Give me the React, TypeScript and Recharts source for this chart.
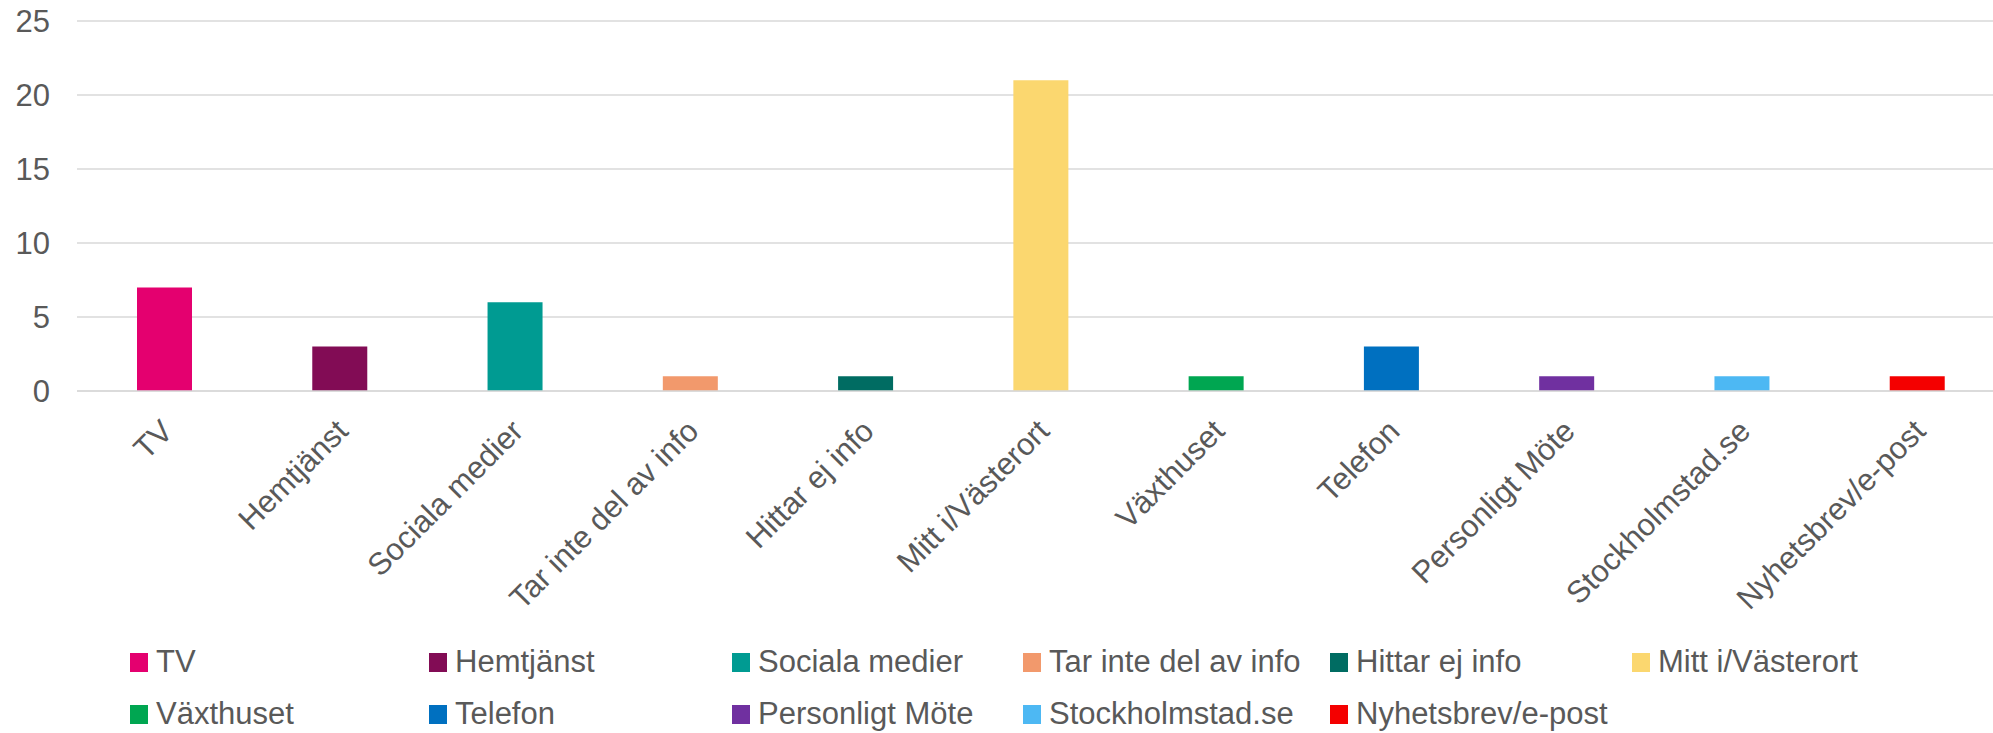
import React from "react";
import { BarChart, Bar, XAxis, YAxis, CartesianGrid, Cell } from "recharts";

const categories = [
  "TV",
  "Hemtjänst",
  "Sociala medier",
  "Tar inte del av info",
  "Hittar ej info",
  "Mitt i/Västerort",
  "Växthuset",
  "Telefon",
  "Personligt Möte",
  "Stockholmstad.se",
  "Nyhetsbrev/e-post",
];
const values = [7, 3, 6, 1, 1, 21, 1, 3, 1, 1, 1];
const colors = [
  "#E4006F",
  "#820C55",
  "#009B92",
  "#F2996C",
  "#006C62",
  "#FBD76F",
  "#00A651",
  "#0070C0",
  "#7030A0",
  "#4DB8F3",
  "#F40000",
];
const yTicks = [0, 5, 10, 15, 20, 25];

const data = categories.map((name, i) => ({ name, value: values[i] }));

const FONT = "'Liberation Sans', Arial, sans-serif";
const TEXT = "#595959";

const XTick = (props: any) => {
  const { x, y, payload } = props;
  const tx = x + 10;
  const ty = y + 40;
  return (
    <text
      x={tx}
      y={ty}
      transform={`rotate(-45, ${tx}, ${ty})`}
      textAnchor="end"
      fontSize={31}
      fontFamily={FONT}
      fill={TEXT}
    >
      {payload.value}
    </text>
  );
};

const legendCols = [130, 429, 732, 1023, 1330, 1632];
const legendRows = [662, 714];

export default function App() {
  return (
    <div
      style={{
        position: "absolute",
        left: 0,
        top: 0,
        width: 1993,
        height: 733,
        overflow: "hidden",
        background: "#fff",
      }}
    >
      <BarChart
        width={2005}
        height={733}
        data={data}
        margin={{ top: 21, right: 0, bottom: 0, left: 0 }}
      >
        <CartesianGrid vertical={false} stroke="#D9D9D9" strokeWidth={1.5} />
        <XAxis
          dataKey="name"
          interval={0}
          height={342}
          tickLine={false}
          tickSize={0}
          axisLine={{ stroke: "#D9D9D9", strokeWidth: 1.5 }}
          tick={<XTick />}
        />
        <YAxis
          width={77}
          domain={[0, 25]}
          ticks={yTicks}
          axisLine={false}
          tickLine={false}
          tickSize={0}
          tickMargin={27}
          tick={{ fontSize: 31, fontFamily: FONT, fill: TEXT }}
        />
        <Bar dataKey="value" barSize={55} isAnimationActive={false}>
          {data.map((d, i) => (
            <Cell key={d.name} fill={colors[i]} />
          ))}
        </Bar>
      </BarChart>
      {categories.map((name, i) => {
        const col = i % 6;
        const row = Math.floor(i / 6);
        return (
          <div
            key={name}
            style={{
              position: "absolute",
              left: legendCols[col],
              top: legendRows[row] - 18,
              height: 36,
              display: "flex",
              alignItems: "center",
              fontFamily: FONT,
              fontSize: 31,
              color: TEXT,
              whiteSpace: "nowrap",
            }}
          >
            <span
              style={{
                display: "inline-block",
                width: 18,
                height: 19,
                background: colors[i],
                marginRight: 8,
              }}
            />
            <span>{name}</span>
          </div>
        );
      })}
    </div>
  );
}
